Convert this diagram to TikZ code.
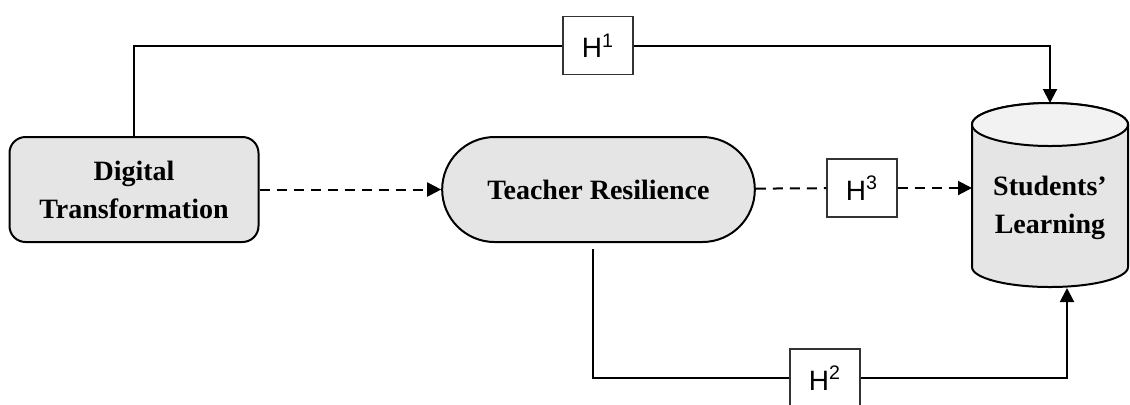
\documentclass[tikz,border=0pt]{standalone}
\usepackage{fontspec}
\setmainfont{Liberation Serif}
\newfontfamily\hfont{Liberation Sans}
\usetikzlibrary{arrows.meta,shapes.misc}

\tikzset{
  var/.style={draw, line width=1pt, fill=gray!20, font=\bfseries\fontsize{14}{19}\selectfont, align=center},
  hyp/.style={draw=black!80, line width=0.6pt, fill=white, minimum width=35pt, minimum height=29pt, font=\hfont\fontsize{14}{16}\selectfont},
  plain/.style={line width=1pt},
  link/.style={line width=1pt, -{Triangle[length=7pt,width=7pt]}},
  dash line/.style={dash pattern=on 5pt off 3.5pt}
}

\begin{document}
\begin{tikzpicture}[x=0.5pt,y=-0.5pt]
    \useasboundingbox (0,0) rectangle (1130,404);

    % variables
    \node[var, rounded corners=8pt, minimum width=124.5pt, minimum height=52.5pt] (dt) at (134,189.5) {Digital\\Transformation};
    \node[var, rounded rectangle, minimum width=163pt, minimum height=52.5pt] (tr) at (598.5,189.5) {Teacher Resilience};

    % cylinder for the outcome
    \draw[line width=1pt, fill=gray!20] (972,124.5) -- (972,267) arc[start angle=180, end angle=360, x radius=39pt, y radius=10pt] -- (1128,124.5) arc[start angle=0, end angle=180, x radius=39pt, y radius=10.75pt] -- cycle;
    \draw[line width=1pt, fill=gray!10] (1050,124.5) ellipse [x radius=39pt, y radius=10.75pt];
    \node[font=\bfseries\fontsize{14}{19}\selectfont, align=center] (sl) at (1050,208) {Students’\\Learning};
    \coordinate (sltop) at (1050,103);
    \coordinate (slleft) at (972,188);
    \coordinate (slbot) at (1067,288);

    % hypotheses
    \node[hyp] (h1) at (598,45.5) {H\textsuperscript{1}};
    \node[hyp] (h3) at (862,188) {H\textsuperscript{3}};
    \node[hyp] (h2) at (825,378) {H\textsuperscript{2}};

    % paths
    \draw[plain] (dt.north) |- (h1);
    \draw[link] (h1) -| (sltop);
    \draw[link, dash line] (dt) -- (tr);
    \draw[plain, dash line] (tr) -- (h3);
    \draw[link, dash line] (h3) -- (slleft);
    \coordinate (trout) at (593,249);
    \draw[plain] (trout) |- (h2);
    \draw[link] (h2) -| (slbot);
\end{tikzpicture}
\end{document}
